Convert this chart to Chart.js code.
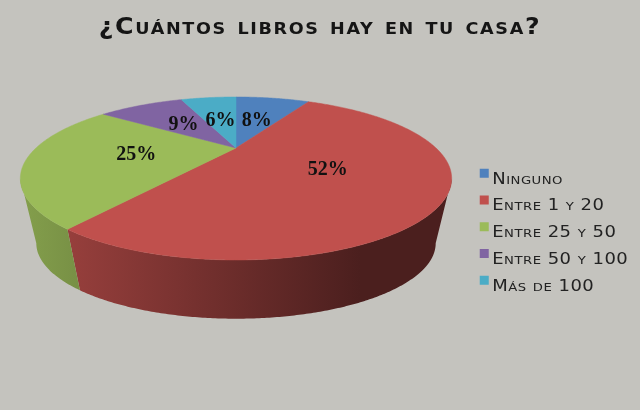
<!DOCTYPE html>
<html>
<head>
<meta charset="utf-8">
<script src="https://cdn.jsdelivr.net/npm/chart.js@4"></script>
<style>
  html, body { margin: 0; padding: 0; background: #c4c3be; }
  canvas { display: block; }
</style>
</head>
<body>
<canvas id="pie3d" width="640" height="410"></canvas>
<script>
const titleText = '¿Cuántos libros hay en tu casa?';
const categories = ['Ninguno', 'Entre 1 y 20', 'Entre 25 y 50', 'Entre 50 y 100', 'Más de 100'];
const percents = [8, 52, 25, 9, 6];
const sliceColors = ['#4f81bd', '#c0504d', '#9bbb59', '#8064a2', '#4bacc6'];

// perspective used to lay the flat pie down
const view = { cx: 236, topY: 148, baseY: 215, baseScale: 0.926, a: 200, b: 70.1, k: 0.374 };
const edgeAngle = Math.acos(-view.k); // where the wall meets the outline of the top face

function project(theta, r, cy, s) {
    const w = 1 + view.k * r * Math.cos(theta);
    return [
        view.cx + s * view.a * r * Math.sin(theta) / w,
        cy - s * view.b * r * Math.cos(theta) / w
    ];
}

function shade(hex, f) {
    const n = parseInt(hex.slice(1), 16);
    return 'rgb(' + Math.round((n >> 16) * f) + ',' + Math.round(((n >> 8) & 255) * f) + ',' + Math.round((n & 255) * f) + ')';
}

// no wide font is installed, so stretch the box text sideways around originX
function stretchText(box, ctx, getOrigin, sx, spacing) {
    const draw = box.draw;
    box.draw = function (area) {
        const originX = getOrigin();
        ctx.save();
        ctx.letterSpacing = spacing;
        ctx.translate(originX, 0);
        ctx.scale(sx, 1);
        ctx.translate(-originX, 0);
        draw.call(box, area);
        ctx.restore();
    };
}

const pie3d = {
    id: 'pie3d',
    beforeDraw(chart) {
        if (chart.$stretched) return;
        chart.$stretched = true;
        stretchText(chart.titleBlock, chart.ctx, () => chart.width / 2, 1.1, '1.5px');
        stretchText(chart.legend, chart.ctx, () => chart.legend.legendHitBoxes[0].left + 12.5, 1.2, '0.4px');
    },
    beforeDatasetsDraw(chart) {
        const ctx = chart.ctx;
        const arcs = chart.getDatasetMeta(0).data;
        const step = Math.PI / 360;

        // side wall, only the part facing the viewer
        arcs.forEach((arc, i) => {
            const start = Math.max(arc.startAngle + Math.PI / 2, edgeAngle);
            const end = Math.min(arc.endAngle + Math.PI / 2, 2 * Math.PI - edgeAngle);
            if (end <= start) return;
            const light = ctx.createLinearGradient(20, 0, 360, 0);
            light.addColorStop(0, shade(sliceColors[i], 0.85));
            light.addColorStop(1, shade(sliceColors[i], 0.39));
            ctx.fillStyle = light;
            ctx.beginPath();
            for (let t = start; t < end; t += step) {
                const p = project(t, 1, view.topY, 1);
                ctx.lineTo(p[0], p[1]);
            }
            const q = project(end, 1, view.topY, 1);
            ctx.lineTo(q[0], q[1]);
            for (let t = end; t > start; t -= step) {
                const p = project(t, 1, view.baseY, view.baseScale);
                ctx.lineTo(p[0], p[1]);
            }
            const r = project(start, 1, view.baseY, view.baseScale);
            ctx.lineTo(r[0], r[1]);
            ctx.closePath();
            ctx.fill();
        });

        // top face
        arcs.forEach((arc, i) => {
            const start = arc.startAngle + Math.PI / 2;
            const end = arc.endAngle + Math.PI / 2;
            ctx.fillStyle = sliceColors[i];
            ctx.strokeStyle = sliceColors[i];
            ctx.lineWidth = 0.5;
            ctx.beginPath();
            ctx.moveTo(view.cx, view.topY);
            for (let t = start; t < end; t += step) {
                const p = project(t, 1, view.topY, 1);
                ctx.lineTo(p[0], p[1]);
            }
            const last = project(end, 1, view.topY, 1);
            ctx.lineTo(last[0], last[1]);
            ctx.closePath();
            ctx.fill();
            ctx.stroke();
        });

        // percent labels
        ctx.save();
        ctx.fillStyle = '#111';
        ctx.font = 'bold 20px "Liberation Serif"';
        ctx.textAlign = 'center';
        ctx.textBaseline = 'middle';
        arcs.forEach((arc, i) => {
            const mid = (arc.startAngle + arc.endAngle) / 2 + Math.PI / 2;
            const p = project(mid, 0.49, view.topY, 1);
            ctx.fillText(percents[i] + '%', p[0], p[1] + 1);
        });
        ctx.restore();
        return false;
    },
    afterDraw(chart) {
        // swatches sit a little above the middle of the legend text
        const ctx = chart.ctx;
        chart.legend.legendHitBoxes.forEach((box, i) => {
            ctx.fillStyle = sliceColors[i];
            ctx.fillRect(box.left, box.top + box.height / 2 - 11, 9, 9);
        });
    }
};

new Chart(document.getElementById('pie3d'), {
    type: 'pie',
    data: {
        labels: categories,
        datasets: [{ data: percents, backgroundColor: sliceColors, borderWidth: 0 }]
    },
    plugins: [pie3d],
    options: {
        responsive: false,
        animation: false,
        layout: { padding: { left: 30, right: 30, top: 8, bottom: 104 } },
        plugins: {
            tooltip: { enabled: false },
            title: {
                display: true,
                text: titleText,
                color: '#151515',
                font: { family: '"DejaVu Sans"', size: 23, weight: 'small-caps bold' },
                padding: { top: 6, bottom: 10 }
            },
            legend: {
                position: 'right',
                align: 'end',
                labels: {
                    color: '#222',
                    font: { family: '"DejaVu Sans"', size: 15, weight: 'small-caps' },
                    boxWidth: 5,
                    boxHeight: 9,
                    padding: 11.75,
                    generateLabels(chart) {
                        return Chart.overrides.pie.plugins.legend.labels.generateLabels(chart)
                            .map(item => Object.assign(item, { fillStyle: 'transparent', strokeStyle: 'transparent' }));
                    }
                }
            }
        }
    }
});
</script>
</body>
</html>
